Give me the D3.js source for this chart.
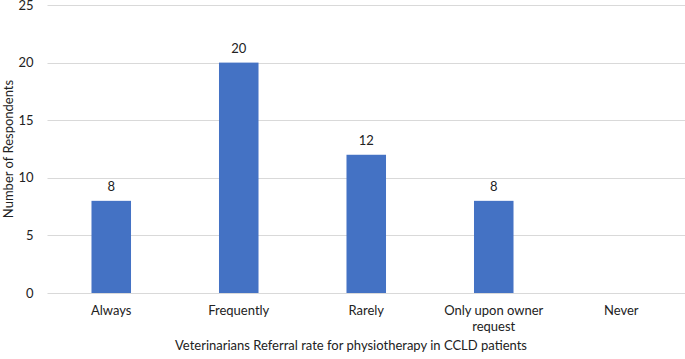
<!DOCTYPE html>
<html>
<head>
<meta charset="utf-8">
<script src="https://cdn.jsdelivr.net/npm/d3@7"></script>
<style>
  body { margin: 0; background: #fff; }
  text { font-family: Lato, "Open Sans", sans-serif; fill: #222; }
</style>
</head>
<body>
<div id="canvas"></div>
<script>
const categories = ['Always', 'Frequently', 'Rarely', 'Only upon owner request', 'Never'];
const respondents = [8, 20, 12, 8, null];
const yTicks = [0, 5, 10, 15, 20, 25];
const xTitle = 'Veterinarians Referral rate for physiotherapy in CCLD patients';
const yTitle = 'Number of Respondents';

const width = 685;
const height = 359;
const margin = { top: 5, right: 0, bottom: 66, left: 47.5 };
const graphWidth = width - margin.left - margin.right;
const graphHeight = height - margin.top - margin.bottom;

const svg = d3
  .select('#canvas')
  .append('svg')
  .attr('width', width)
  .attr('height', height);

const graph = svg
  .append('g')
  .attr('transform', `translate(${margin.left}, ${margin.top})`);

const xScale = d3
  .scaleBand()
  .domain(categories)
  .range([0, graphWidth])
  .paddingInner(0.69)
  .paddingOuter(0.345);
const yScale = d3.scaleLinear().domain([0, 25]).range([graphHeight, 0]);

// gridlines
graph
  .selectAll('line.grid')
  .data(yTicks)
  .enter()
  .append('line')
  .attr('class', 'grid')
  .attr('x1', 0)
  .attr('x2', graphWidth)
  .attr('y1', d => Math.round(yScale(d)) + 0.5)
  .attr('y2', d => Math.round(yScale(d)) + 0.5)
  .attr('stroke', '#d9d9d9')
  .attr('stroke-width', 1);

// y axis labels
const yAxis = d3.axisLeft(yScale).tickValues(yTicks).tickSize(0).tickPadding(14);
const yAxisGroup = graph.append('g').call(yAxis);
yAxisGroup.select('.domain').remove();
yAxisGroup.selectAll('text').attr('font-size', 13).style('font-family', 'Lato, sans-serif').attr('fill', '#222');

// x axis labels
const xAxis = d3.axisBottom(xScale).tickSize(0).tickPadding(0);
const xAxisGroup = graph
  .append('g')
  .attr('transform', `translate(0, ${graphHeight})`)
  .call(xAxis);
xAxisGroup.select('.domain').remove();
xAxisGroup.selectAll('text').remove();
xAxisGroup
  .selectAll('.tick')
  .append('text')
  .attr('text-anchor', 'middle')
  .attr('font-size', 13)
  .attr('fill', '#222')
  .each(function (d) {
    const lines = d === 'Only upon owner request' ? ['Only upon owner', 'request'] : [d];
    d3.select(this)
      .selectAll('tspan')
      .data(lines)
      .enter()
      .append('tspan')
      .attr('x', 0)
      .attr('y', (l, i) => 22 + i * 16)
      .text(l => l);
  });

// bars
const barData = categories
  .map((c, i) => ({ cat: c, value: respondents[i] }))
  .filter(d => d.value !== null);

graph
  .selectAll('rect.bar')
  .data(barData)
  .enter()
  .append('rect')
  .attr('class', 'bar')
  .attr('x', d => xScale(d.cat))
  .attr('y', d => yScale(d.value))
  .attr('width', xScale.bandwidth())
  .attr('height', d => graphHeight - yScale(d.value))
  .attr('fill', '#4472c4');

// value labels
graph
  .selectAll('text.val')
  .data(barData)
  .enter()
  .append('text')
  .attr('class', 'val')
  .attr('x', d => xScale(d.cat) + xScale.bandwidth() / 2)
  .attr('y', d => yScale(d.value) - 10)
  .attr('text-anchor', 'middle')
  .attr('font-size', 13)
  .text(d => d.value);

// axis titles
svg
  .append('text')
  .attr('x', 351)
  .attr('y', 350)
  .attr('text-anchor', 'middle')
  .attr('font-size', 13)
  .text(xTitle);

svg
  .append('text')
  .attr('transform', `translate(13, ${margin.top + graphHeight / 2}) rotate(-90)`)
  .attr('text-anchor', 'middle')
  .attr('font-size', 13)
  .text(yTitle);
</script>
</body>
</html>
